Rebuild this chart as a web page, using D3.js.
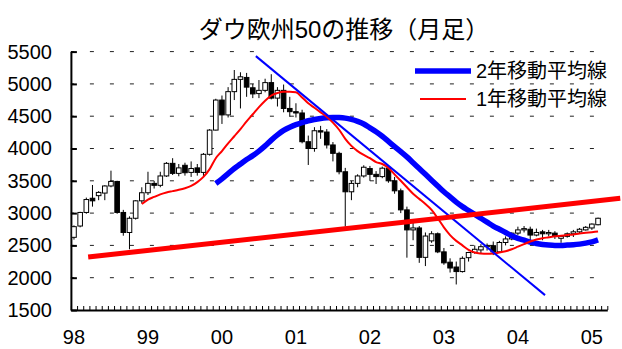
<!DOCTYPE html>
<html>
<head>
<meta charset="utf-8">
<script src="https://cdn.jsdelivr.net/npm/d3@7"></script>
<style>
  body { margin: 0; background: #fff; }
  svg { display: block; }
  text { font-family: "Liberation Sans", Arial, "Noto Sans CJK JP", sans-serif; }
</style>
</head>
<body>
<svg id="chart" width="622" height="349"></svg>
<script>
// monthly candles, Jan 1998 .. Feb 2005
var months = d3.timeMonth.range(new Date(1998, 0, 1), new Date(2005, 2, 1));
var opens = [2625,2800,3010,3230,3270,3310,3420,3490,3010,2700,2920,3190,
  3315,3460,3430,3575,3770,3615,3740,3630,3700,3630,3910,4285,
  4750,4520,4880,5070,5100,4940,4850,4900,5020,4780,4900,4620,
  4570,4550,4105,4000,4275,4255,4055,3925,3640,3330,3460,3575,
  3690,3600,3565,3695,3500,3345,3050,2740,2770,2315,2570,2680,
  2400,2240,2165,2095,2310,2390,2430,2480,2495,2400,2545,2600,
  2690,2740,2750,2660,2710,2680,2690,2610,2640,2680,2710,2740,
  2770,2820];
var highs = [2810,3020,3240,3435,3340,3430,3657,3500,3050,2950,3200,3400,
  3640,3500,3640,3790,3850,3760,3780,3800,3760,3930,4300,4770,
  4820,4950,5215,5180,5170,5000,5060,5080,5150,4950,4990,4800,
  4700,4600,4200,4330,4350,4300,4100,3950,3700,3500,3600,3740,
  3730,3650,3720,3720,3560,3380,3100,2900,2800,2700,2720,2700,
  2460,2300,2250,2330,2400,2500,2520,2530,2560,2570,2640,2700,
  2790,2800,2790,2760,2740,2740,2720,2660,2700,2740,2770,2800,
  2840,2930];
var lows = [2590,2780,2990,3100,3200,3200,3400,2990,2650,2440,2900,3150,
  3280,3380,3400,3560,3590,3570,3580,3560,3580,3560,3890,4280,
  4380,4480,4750,4620,4800,4780,4780,4870,4760,4650,4560,4490,
  4480,4080,3745,3950,4150,4000,3800,3600,2790,3200,3400,3550,
  3500,3450,3540,3470,3300,3000,2310,2580,2230,2180,2540,2380,
  2200,2080,1895,2080,2250,2370,2380,2420,2350,2390,2500,2580,
  2660,2700,2580,2640,2580,2640,2600,2540,2620,2630,2690,2730,
  2740,2810];
var closes = [2790,3010,3210,3190,3320,3420,3490,3010,2700,2920,3190,3315,
  3460,3430,3575,3770,3615,3700,3625,3690,3630,3910,4285,4750,
  4520,4880,5070,5110,4950,4845,4900,5020,4780,4900,4620,4570,
  4550,4105,4000,4275,4255,4055,3925,3640,3330,3460,3575,3710,
  3600,3565,3695,3500,3345,3050,2740,2770,2315,2645,2680,2400,
  2230,2150,2095,2300,2390,2440,2480,2500,2400,2545,2600,2690,
  2740,2760,2660,2700,2680,2700,2640,2640,2680,2710,2750,2780,
  2830,2920];

// 1-year moving average (from Dec 1998), 2-year moving average (from Dec 1999)
var ma1y = [3140,3210,3250,3290,3320,3340,3360,3385,3420,3480,3560,3680,
  3850,3960,4080,4190,4300,4420,4530,4640,4740,4820,4860,4880,
  4880,4870,4790,4700,4630,4560,4490,4400,4290,4150,4040,3960,
  3900,3850,3790,3760,3700,3600,3500,3400,3300,3220,3140,3050,
  2920,2780,2660,2570,2500,2430,2390,2375,2370,2375,2390,2410,
  2440,2480,2520,2560,2590,2610,2625,2640,2650,2660,2670,2685,
  2695,2705,2715];
var ma1yStart = 11;
var ma2y = [3460,3530,3610,3690,3760,3830,3890,3960,4040,4130,4210,4280,
  4330,4370,4400,4430,4450,4465,4475,4480,4478,4470,4450,4420,
  4380,4320,4260,4190,4110,4030,3950,3870,3780,3690,3600,3510,
  3420,3330,3250,3170,3100,3040,2980,2920,2860,2800,2750,2700,
  2650,2610,2580,2550,2530,2515,2505,2500,2500,2505,2510,2520,
  2535,2555,2585];
var ma2yStart = 23;

// trend lines: [month index, value]
var downTrend = [[29.5, 5430], [76.4, 1730]];
var supportTrend = [[2.3, 2320], [88.6, 3230]];

var yTicks = [1500,2000,2500,3000,3500,4000,4500,5000,5500];
var yearLabels = ['98','99','00','01','02','03','04','05'];

var svg = d3.select('#chart');
var nSlots = 87;
var x = d3.scaleLinear().domain([-0.5, nSlots - 0.5]).range([70.9, 607.3]);
var y = d3.scaleLinear().domain([1500, 5500]).range([310, 51.6]);

// title
svg.append('text')
    .attr('x', 344)
    .attr('y', 38)
    .attr('text-anchor', 'middle')
    .style('font-size', '24px')
    .text('ダウ欧州50の推移（月足）');

// dashed gridlines
svg.append('g').selectAll('line')
    .data(yTicks.slice(1))
    .enter()
    .append('line')
    .attr('x1', x(-0.5))
    .attr('x2', x(nSlots - 0.5))
    .attr('y1', d => y(d))
    .attr('y2', d => y(d))
    .style('stroke', '#222')
    .style('stroke-width', 1)
    .style('stroke-dasharray', '4,16')
    .style('stroke-dashoffset', 1);

// y axis
var yAxis = d3.axisLeft(y).tickValues(yTicks).tickFormat(d3.format('d'))
    .tickSize(-6).tickSizeOuter(0).tickPadding(19);
var gy = svg.append('g')
    .attr('transform', `translate(${x(-0.5)},0)`)
    .call(yAxis);
gy.select('.domain').style('stroke', '#000').style('stroke-width', 2);
gy.selectAll('.tick line').style('stroke-width', 2);
gy.selectAll('.tick text')
    .style('font-size', '20px')
    .style('font-family', '"Liberation Sans", Arial, sans-serif')
    .attr('fill', '#000');

// x axis with monthly ticks
var xAxis = d3.axisBottom(x).tickValues(d3.range(-0.5, nSlots, 1)).tickSize(-4).tickSizeOuter(0).tickFormat('');
var gx = svg.append('g')
    .attr('transform', `translate(0,${y(1500)})`)
    .call(xAxis);
gx.select('.domain').style('stroke', '#000').style('stroke-width', 2);
gx.selectAll('.tick line').style('stroke', '#000');

svg.append('g').selectAll('text')
    .data(yearLabels)
    .enter()
    .append('text')
    .attr('x', (d, i) => x(i * 12))
    .attr('y', 344)
    .attr('text-anchor', 'middle')
    .style('font-size', '20px')
    .text(d => d);

// candles
var candles = svg.append('g');
var bodyW = 4.6;
candles.selectAll('.wick')
    .data(months)
    .enter()
    .append('line')
    .attr('x1', (d, i) => x(i))
    .attr('x2', (d, i) => x(i))
    .attr('y1', (d, i) => y(highs[i]))
    .attr('y2', (d, i) => y(lows[i]))
    .style('stroke', '#000')
    .style('stroke-width', 1);

candles.selectAll('.body')
    .data(months)
    .enter()
    .append('rect')
    .attr('x', (d, i) => x(i) - bodyW / 2)
    .attr('y', (d, i) => y(Math.max(opens[i], closes[i])))
    .attr('width', bodyW)
    .attr('height', (d, i) => Math.max(1, Math.abs(y(opens[i]) - y(closes[i]))))
    .style('fill', (d, i) => closes[i] >= opens[i] ? '#fff' : '#000')
    .style('stroke', '#000')
    .style('stroke-width', 1);

// moving averages
var line = d3.line().x(d => x(d[0])).y(d => y(d[1])).curve(d3.curveMonotoneX);

svg.append('path')
    .datum(ma2y.map((v, i) => [i + ma2yStart, v]))
    .attr('d', line)
    .style('fill', 'none')
    .style('stroke', '#0000ff')
    .style('stroke-width', 5.5);

svg.append('path')
    .datum(ma1y.map((v, i) => [i + ma1yStart, v]))
    .attr('d', line)
    .style('fill', 'none')
    .style('stroke', '#ff0000')
    .style('stroke-width', 2);

// trend lines
var tline = d3.line().x(d => x(d[0])).y(d => y(d[1]));
svg.append('path')
    .datum(downTrend)
    .attr('d', tline)
    .style('stroke', '#0000ff')
    .style('stroke-width', 2);

svg.append('path')
    .datum(supportTrend)
    .attr('d', tline)
    .style('stroke', '#ff0000')
    .style('stroke-width', 5);

// legend
var legend = [
  { label: '2年移動平均線', color: '#0000ff', w: 5.5, x1: 415, x2: 471, yy: 71 },
  { label: '1年移動平均線', color: '#ff0000', w: 2, x1: 420, x2: 466, yy: 99 }
];
legend.forEach(d => {
    svg.append('line')
        .attr('x1', d.x1).attr('x2', d.x2)
        .attr('y1', d.yy).attr('y2', d.yy)
        .style('stroke', d.color)
        .style('stroke-width', d.w);
    svg.append('text')
        .attr('x', 476)
        .attr('y', d.yy)
        .attr('dy', '0.35em')
        .style('font-size', '20px')
        .text(d.label);
});
</script>
</body>
</html>
